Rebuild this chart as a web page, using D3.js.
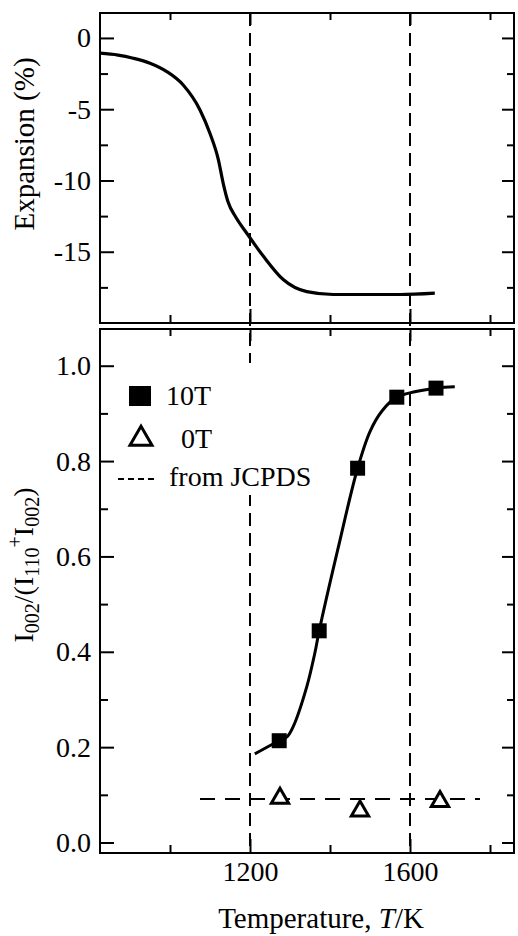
<!DOCTYPE html>
<html>
<head>
<meta charset="utf-8">
<script src="https://cdn.jsdelivr.net/npm/d3@7"></script>
<style>
  body { margin: 0; background: #fff; }
</style>
</head>
<body>
<svg id="chart" width="518" height="936" font-family="Liberation Serif"></svg>
<script>
// Top panel: expansion curve
var expTemp  = [825, 870, 908, 950, 992, 1033, 1075, 1100, 1121, 1133, 1145, 1165, 1192, 1233, 1283, 1342, 1408, 1500, 1575, 1662];
var expValue = [-1.07, -1.2, -1.42, -1.77, -2.36, -3.3, -5.05, -6.7, -8.55, -10.2, -11.5, -12.6, -13.7, -15.3, -16.95, -17.8, -18.0, -18.0, -18.0, -17.9];

// Bottom panel: 10T measured points and the hand-drawn fit through them
var temp10T  = [1273, 1373, 1469, 1567, 1665];
var value10T = [0.2135, 0.444, 0.785, 0.934, 0.953];
var fitTemp  = [1212, 1273, 1293, 1308, 1342, 1362, 1373, 1421, 1469, 1500, 1530, 1567, 1665, 1712];
var fitValue = [0.186, 0.2135, 0.222, 0.243, 0.327, 0.397, 0.444, 0.62, 0.785, 0.862, 0.905, 0.934, 0.953, 0.956];

// 0T points
var temp0T  = [1275, 1475, 1675];
var value0T = [0.093, 0.066, 0.086];

// JCPDS reference level
var jcpdsValue = 0.091;
var jcpdsRange = [1075, 1775];

// Vertical guide lines
var guideTemps = [1200, 1600];

// Ticks
var xMajor = [1200, 1600];
var xMinor = [1000, 1400, 1800];
var expMajor = [0, -5, -10, -15];
var expMinor = [-2.5, -7.5, -12.5, -17.5];
var ratioMajor = [0, 0.2, 0.4, 0.6, 0.8, 1.0];
var ratioMinor = [0.1, 0.3, 0.5, 0.7, 0.9];

var serif = "Liberation Serif";

var svg = d3.select("#chart");
var left = 100, right = 514;
var topPanel = {top: 13, bottom: 323};
var botPanel = {top: 329, bottom: 853};

var x = d3.scaleLinear().domain([825, 1860]).range([left, right]);
var yExp = d3.scaleLinear().domain([-20, 1.75]).range([topPanel.bottom, topPanel.top]);
var yRatio = d3.scaleLinear().domain([-0.022, 1.077]).range([botPanel.bottom, botPanel.top]);

function styleAxis(g) {
  g.attr("font-family", serif);
  g.select(".domain").remove();
  g.selectAll("line").attr("stroke", "#000").attr("stroke-width", 2);
  g.selectAll("text").attr("font-size", 28).attr("fill", "#000").attr("font-family", serif);
}

// Draw inward ticks on all four sides of a panel
function drawTicks(y, panel, yMajor, yMinor, yFormat, showX) {
  svg.append("g").attr("transform", "translate(" + left + ",0)")
    .call(d3.axisLeft(y).tickValues(yMajor).tickSize(-14).tickPadding(9).tickFormat(yFormat))
    .call(styleAxis);
  svg.append("g").attr("transform", "translate(" + left + ",0)")
    .call(d3.axisLeft(y).tickValues(yMinor).tickSize(-8).tickFormat(""))
    .call(styleAxis);
  svg.append("g").attr("transform", "translate(" + right + ",0)")
    .call(d3.axisRight(y).tickValues(yMajor).tickSize(-12).tickFormat(""))
    .call(styleAxis);
  svg.append("g").attr("transform", "translate(" + right + ",0)")
    .call(d3.axisRight(y).tickValues(yMinor).tickSize(-7).tickFormat(""))
    .call(styleAxis);

  svg.append("g").attr("transform", "translate(0," + panel.bottom + ")")
    .call(d3.axisBottom(x).tickValues(xMajor).tickSize(-14).tickPadding(8)
      .tickFormat(showX ? d3.format("d") : ""))
    .call(styleAxis);
  svg.append("g").attr("transform", "translate(0," + panel.bottom + ")")
    .call(d3.axisBottom(x).tickValues(xMinor).tickSize(-8).tickFormat(""))
    .call(styleAxis);
  svg.append("g").attr("transform", "translate(0," + panel.top + ")")
    .call(d3.axisTop(x).tickValues(xMajor).tickSize(-12).tickFormat(""))
    .call(styleAxis);
  svg.append("g").attr("transform", "translate(0," + panel.top + ")")
    .call(d3.axisTop(x).tickValues(xMinor).tickSize(-7).tickFormat(""))
    .call(styleAxis);

  svg.append("rect")
    .attr("x", left).attr("y", panel.top)
    .attr("width", right - left).attr("height", panel.bottom - panel.top)
    .attr("fill", "none").attr("stroke", "#000").attr("stroke-width", 2);
}

// Vertical dashed guides run through both panels
svg.append("g").selectAll("line")
  .data(guideTemps)
  .enter().append("line")
  .attr("x1", function(d) { return x(d); })
  .attr("x2", function(d) { return x(d); })
  .attr("y1", topPanel.top)
  .attr("y2", botPanel.bottom)
  .attr("stroke", "#000")
  .attr("stroke-width", 2)
  .attr("stroke-dasharray", "13,7");

drawTicks(yExp, topPanel, expMajor, expMinor, function(d) { return String(d); }, false);
drawTicks(yRatio, botPanel, ratioMajor, ratioMinor, d3.format(".1f"), true);

// Expansion curve
var expLine = d3.line()
  .x(function(d) { return x(d[0]); })
  .y(function(d) { return yExp(d[1]); })
  .curve(d3.curveMonotoneX);
svg.append("path")
  .datum(d3.zip(expTemp, expValue))
  .attr("d", expLine)
  .attr("fill", "none")
  .attr("stroke", "#000")
  .attr("stroke-width", 3.2);

// JCPDS dashed level
svg.append("line")
  .attr("x1", x(jcpdsRange[0])).attr("x2", x(jcpdsRange[1]))
  .attr("y1", yRatio(jcpdsValue)).attr("y2", yRatio(jcpdsValue))
  .attr("stroke", "#000").attr("stroke-width", 2)
  .attr("stroke-dasharray", "15,10");

// 10T fit curve
var fitLine = d3.line()
  .x(function(d) { return x(d[0]); })
  .y(function(d) { return yRatio(d[1]); })
  .curve(d3.curveCatmullRom);
svg.append("path")
  .datum(d3.zip(fitTemp, fitValue))
  .attr("d", fitLine)
  .attr("fill", "none")
  .attr("stroke", "#000")
  .attr("stroke-width", 3);

svg.append("g").selectAll("path")
  .data(d3.zip(temp10T, value10T))
  .enter().append("path")
  .attr("transform", function(d) { return "translate(" + x(d[0]) + "," + yRatio(d[1]) + ")"; })
  .attr("d", d3.symbol(d3.symbolSquare, 225))
  .attr("fill", "#000");

svg.append("g").selectAll("path")
  .data(d3.zip(temp0T, value0T))
  .enter().append("path")
  .attr("transform", function(d) { return "translate(" + x(d[0]) + "," + yRatio(d[1]) + ")"; })
  .attr("d", d3.symbol(d3.symbolTriangle, 130))
  .attr("fill", "#fff")
  .attr("stroke", "#000")
  .attr("stroke-width", 3);

// Legend (white box hides the guide behind it)
var legend = svg.append("g").attr("font-family", serif);
legend.append("rect")
  .attr("x", 115).attr("y", 363).attr("width", 215).attr("height", 132)
  .attr("fill", "#fff");
legend.append("rect")
  .attr("x", 129).attr("y", 386).attr("width", 22).attr("height", 20)
  .attr("fill", "#000");
legend.append("path")
  .attr("transform", "translate(141,439)")
  .attr("d", d3.symbol(d3.symbolTriangle, 210))
  .attr("fill", "#fff").attr("stroke", "#000").attr("stroke-width", 3);
legend.append("line")
  .attr("x1", 118).attr("x2", 158).attr("y1", 479).attr("y2", 479)
  .attr("stroke", "#000").attr("stroke-width", 2).attr("stroke-dasharray", "6,4");
legend.append("text").attr("x", 166).attr("y", 405).attr("font-size", 28).attr("font-family", serif).text("10T");
legend.append("text").attr("x", 181).attr("y", 448).attr("font-size", 28).attr("font-family", serif).text("0T");
legend.append("text").attr("x", 169).attr("y", 486).attr("font-size", 28).attr("font-family", serif).text("from JCPDS");

// Axis titles
svg.append("text")
  .attr("transform", "translate(34,144) rotate(-90)")
  .attr("text-anchor", "middle")
  .attr("font-family", serif)
  .attr("font-size", 29)
  .text("Expansion (%)");

var yTitle = svg.append("text")
  .attr("transform", "translate(33,565) rotate(-90)")
  .attr("text-anchor", "middle")
  .attr("font-family", serif)
  .attr("font-size", 28);
yTitle.append("tspan").text("I");
yTitle.append("tspan").attr("font-size", 20).attr("dy", 6).text("002");
yTitle.append("tspan").attr("dy", -6).text("/(I");
yTitle.append("tspan").attr("font-size", 20).attr("dy", 6).text("110");
yTitle.append("tspan").attr("font-size", 20).attr("dy", -17).text("+");
yTitle.append("tspan").attr("dy", 11).text("I");
yTitle.append("tspan").attr("font-size", 20).attr("dy", 6).text("002");
yTitle.append("tspan").attr("dy", -6).text(")");

var xTitle = svg.append("text")
  .attr("x", 321).attr("y", 928)
  .attr("text-anchor", "middle")
  .attr("font-family", serif)
  .attr("font-size", 29);
xTitle.append("tspan").text("Temperature, ");
xTitle.append("tspan").attr("font-style", "italic").text("T");
xTitle.append("tspan").text("/K");
</script>
</body>
</html>
